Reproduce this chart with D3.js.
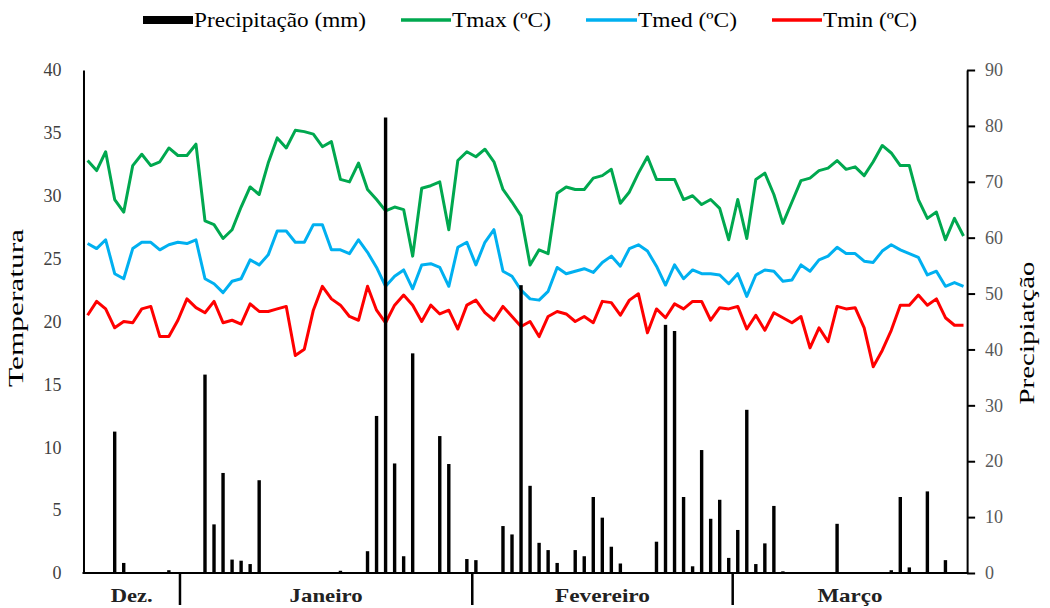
<!DOCTYPE html>
<html><head><meta charset="utf-8">
<script src="https://cdn.jsdelivr.net/npm/d3@7"></script>
<style>body{margin:0;background:#fff}svg{display:block}</style>
</head><body>
<svg id="c" width="1050" height="608"></svg>
<script>
// ---------------- data ----------------
const precip = [0,0,0,25.3,1.8,0,0,0,0,0.5,
  0,0,0,35.5,8.7,17.9,2.4,2.2,1.6,16.6,
  0,0,0,0,0,0,0,0,0.4,0,
  0,3.9,28.1,81.5,19.6,3.0,39.3,0,0,24.5,
  19.5,0,2.5,2.3,0,0,8.4,6.9,51.5,15.6,
  5.4,4.1,1.8,0,4.1,3.0,13.6,9.9,4.7,1.7,
  0,0,0,5.6,44.4,43.3,13.6,1.2,22.0,9.7,
  13.1,2.7,7.7,29.2,1.6,5.3,12.0,0.3,0,0,
  0,0,0,8.8,0,0,0,0,0,0.5,
  13.6,1.0,0,14.6,0,2.3,0,0];
const tmax = [32.8,32.0,33.5,29.7,28.7,32.4,33.3,32.4,32.7,33.8,
  33.2,33.2,34.1,28.0,27.7,26.6,27.3,29.1,30.7,30.1,
  32.6,34.6,33.8,35.2,35.1,34.9,33.9,34.3,31.3,31.1,
  32.6,30.5,29.7,28.8,29.1,28.9,25.2,30.6,30.8,31.1,
  27.3,32.8,33.5,33.1,33.7,32.7,30.5,29.5,28.4,24.5,
  25.7,25.4,30.2,30.7,30.5,30.5,31.4,31.6,32.1,29.4,
  30.3,31.8,33.1,31.3,31.3,31.3,29.7,30.0,29.3,29.7,
  29.0,26.5,29.7,26.6,31.3,31.8,30.1,27.8,29.5,31.2,
  31.4,32.0,32.2,32.8,32.1,32.3,31.6,32.7,34.0,33.4,
  32.4,32.4,29.7,28.2,28.7,26.5,28.2,26.8];
const tmed = [26.2,25.8,26.5,23.8,23.4,25.8,26.3,26.3,25.7,26.1,
  26.3,26.2,26.5,23.4,23.0,22.3,23.2,23.4,24.9,24.5,
  25.3,27.2,27.2,26.3,26.3,27.7,27.7,25.7,25.7,25.4,
  26.5,25.5,24.3,22.8,23.6,24.1,22.6,24.5,24.6,24.3,
  22.8,25.9,26.3,24.5,26.3,27.3,24.0,23.6,22.5,21.8,
  21.7,22.4,24.3,23.8,24.0,24.2,23.9,24.7,25.2,24.4,
  25.8,26.1,25.6,24.4,22.9,24.5,23.4,24.1,23.8,23.8,
  23.7,23.0,23.8,22.0,23.7,24.1,24.0,23.2,23.3,24.5,
  24.0,24.9,25.2,25.9,25.4,25.4,24.8,24.7,25.6,26.1,
  25.7,25.4,25.1,23.7,24.0,22.8,23.1,22.8];
const tmin = [20.5,21.6,21.0,19.5,20.0,19.9,21.0,21.2,18.8,18.8,
  20.1,21.8,21.1,20.7,21.6,19.9,20.1,19.8,21.4,20.8,
  20.8,21.0,21.2,17.3,17.8,20.9,22.8,21.8,21.3,20.4,
  20.1,22.8,20.9,19.9,21.3,22.1,21.3,20.0,21.3,20.6,
  20.9,19.4,21.3,21.7,20.7,20.1,21.2,20.4,19.6,20.0,
  18.8,20.4,20.8,20.6,20.0,20.4,19.9,21.6,21.5,20.5,
  21.7,22.2,19.1,21.0,20.3,21.4,21.0,21.6,21.6,20.1,
  21.1,21.0,21.2,19.4,20.5,19.3,20.7,20.3,19.9,20.4,
  17.9,19.5,18.4,21.2,21.0,21.1,19.5,16.4,17.7,19.3,
  21.3,21.3,22.1,21.3,21.8,20.3,19.7,19.7];
const tempTicks = [0,5,10,15,20,25,30,35,40];
const precipTicks = [0,10,20,30,40,50,60,70,80,90];
const monthNames = ["Dez.","Janeiro","Fevereiro","Março"];
const monthBreaks = [10.23, 42.6, 71.44]; // boundaries in day-index units
const seriesNames = ["Precipitação (mm)","Tmax (ºC)","Tmed (ºC)","Tmin (ºC)"];

// ---------------- layout ----------------
const FONT = "'Liberation Serif','Times New Roman',serif";
const svg = d3.select("#c");
const N = tmax.length;
const plotDomain = [-0.455, 97.4];
const x = d3.scaleLinear().domain([0, N-1]).range([87.6, 963.5]);
const yT = d3.scaleLinear().domain([0, 40]).range([573, 70]);
const yP = d3.scaleLinear().domain([0, 90]).range([573, 70]);
const xL = x(plotDomain[0]), xR = x(plotDomain[1]);

const colors = {tmax:"#00A84F", tmed:"#00B0F0", tmin:"#FF0000"};

// lines
const line = y => d3.line().x((d,i)=>x(i)).y(d=>y(d));
[[tmax,colors.tmax],[tmed,colors.tmed],[tmin,colors.tmin]].forEach(([arr,c])=>{
  svg.append("path").datum(arr).attr("d", line(yT))
    .attr("fill","none").attr("stroke",c).attr("stroke-width",3)
    .attr("stroke-linejoin","round");
});

// bars
const bw = 3.4;
svg.append("g").selectAll("rect").data(precip.map((v,i)=>({v,i})).filter(d=>d.v>0)).join("rect")
  .attr("x", d=>x(d.i)-bw/2).attr("width", bw)
  .attr("y", d=>yP(d.v)).attr("height", d=>yP(0)-yP(d.v))
  .attr("fill","#000");

// left axis
const gL = svg.append("g").attr("transform",`translate(${xL},0)`)
  .call(d3.axisLeft(yT).tickValues(tempTicks).tickSize(0).tickSizeOuter(0).tickPadding(22));
gL.select(".domain").attr("stroke","#000").attr("stroke-width",2);
gL.selectAll("text").attr("font-family",FONT).attr("font-size",18).attr("fill","#404040");

// right axis
const gR = svg.append("g").attr("transform",`translate(${xR},0)`)
  .call(d3.axisRight(yP).tickValues(precipTicks).tickSize(8).tickSizeOuter(0).tickPadding(10));
gR.select(".domain").attr("stroke","#000").attr("stroke-width",2);
gR.selectAll(".tick line").attr("stroke","#000").attr("stroke-width",2);
gR.selectAll("text").attr("font-family",FONT).attr("font-size",18).attr("fill","#595959");

// bottom axis line
svg.append("line").attr("x1",xL-1).attr("x2",xR+1).attr("y1",yT(0)).attr("y2",yT(0))
  .attr("stroke","#000").attr("stroke-width",2);

// month separators and labels
svg.append("g").selectAll("line").data(monthBreaks).join("line")
  .attr("x1",d=>x(d)).attr("x2",d=>x(d)).attr("y1",yT(0)).attr("y2",yT(0)+32)
  .attr("stroke","#000").attr("stroke-width",2.5);
const edges = [plotDomain[0], ...monthBreaks, plotDomain[1]];
const monthLens = [42, 73, 95, 65];
svg.append("g").selectAll("text").data(monthNames).join("text")
  .attr("x",(d,i)=>(x(edges[i])+x(edges[i+1]))/2).attr("y",602)
  .attr("text-anchor","middle").attr("font-family",FONT).attr("font-weight","bold")
  .attr("font-size",19).attr("fill","#222")
  .attr("textLength",(d,i)=>monthLens[i]).attr("lengthAdjust","spacingAndGlyphs")
  .text(d=>d);

// axis titles
svg.append("text").attr("transform","translate(23,308) rotate(-90)")
  .attr("text-anchor","middle").attr("font-family",FONT).attr("font-size",20)
  .attr("textLength",158).attr("lengthAdjust","spacingAndGlyphs")
  .attr("fill","#000").text("Temperatura");
svg.append("text").attr("transform","translate(1034,333) rotate(-90)")
  .attr("text-anchor","middle").attr("font-family",FONT).attr("font-size",20)
  .attr("textLength",143).attr("lengthAdjust","spacingAndGlyphs")
  .attr("fill","#000").text("Precipiatção");

// legend
const legY = 20;
const leg = svg.append("g").attr("font-family",FONT).attr("font-size",22);
const legItems = [
  {name:seriesNames[0], type:"rect", color:"#000", x0:143, x1:193, tx:194, tl:172},
  {name:seriesNames[1], type:"line", color:colors.tmax, x0:401, x1:451, tx:452, tl:99},
  {name:seriesNames[2], type:"line", color:colors.tmed, x0:586, x1:637, tx:638, tl:99},
  {name:seriesNames[3], type:"line", color:colors.tmin, x0:772, x1:822, tx:823, tl:94}
];
legItems.forEach(it=>{
  if(it.type==="rect"){
    leg.append("rect").attr("x",it.x0).attr("y",legY-4).attr("width",it.x1-it.x0).attr("height",8).attr("fill",it.color);
  } else {
    leg.append("line").attr("x1",it.x0).attr("x2",it.x1).attr("y1",legY).attr("y2",legY)
      .attr("stroke",it.color).attr("stroke-width",3.5);
  }
  leg.append("text").attr("x",it.tx).attr("y",legY+7).attr("fill","#000")
    .attr("textLength",it.tl).attr("lengthAdjust","spacingAndGlyphs").text(it.name);
});
</script>
</body></html>
